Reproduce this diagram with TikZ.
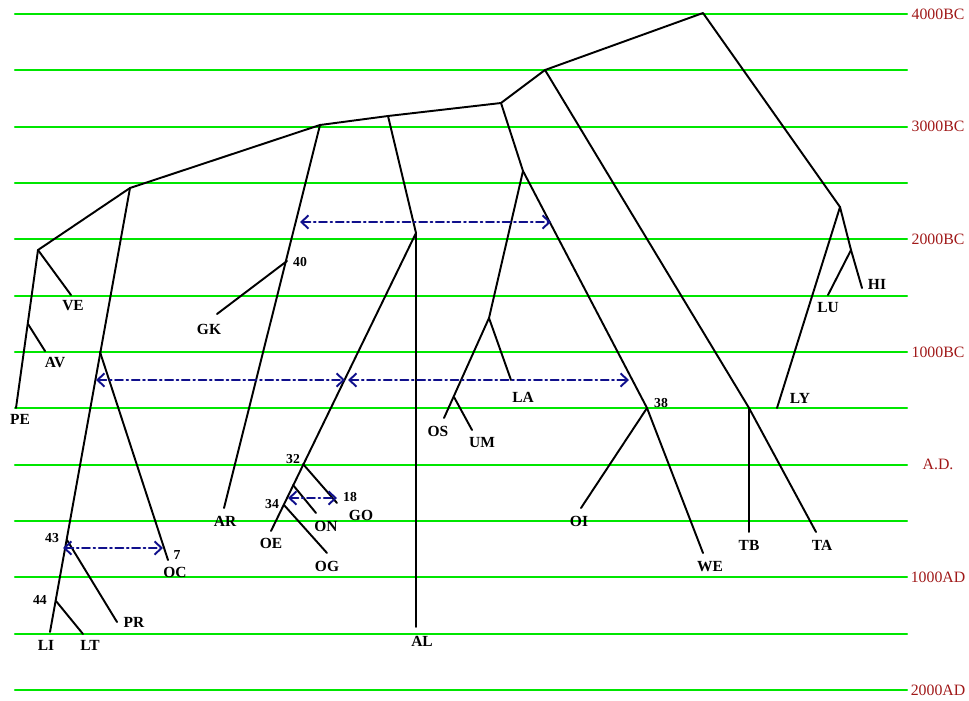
\documentclass[tikz,border=0pt]{standalone}
\usepackage{fontspec}
\setmainfont{Liberation Serif}
\usetikzlibrary{arrows.meta}
\definecolor{gridgreen}{HTML}{00E600}
\definecolor{epochred}{HTML}{A01818}
\definecolor{spreadblue}{HTML}{10108C}

\begin{document}
\begin{tikzpicture}[x=0.02cm, y=-0.02cm, line cap=round, line join=round,
    branch/.style={line width=1.1pt, black},
    lang/.style={font=\bfseries\fontsize{8.8}{9}\selectfont, inner sep=0pt},
    split/.style={font=\bfseries\fontsize{7.8}{8}\selectfont, inner sep=0pt},
    epoch/.style={font=\fontsize{9}{10}\selectfont, epochred, inner sep=0pt},
    spread/.style={line width=1.1pt, spreadblue, dash pattern=on 4.5pt off 2pt on 1pt off 2pt,
      {Straight Barb[length=4pt,width=7.5pt]}-{Straight Barb[length=4pt,width=7.5pt]}}]

  \useasboundingbox (0,0) rectangle (969,700);

  % Lineas de tiempo
  \foreach \i in {0,...,12}
    \draw[gridgreen, line width=1.3pt] (15,{14+56.33*\i}) -- (907,{14+56.33*\i});
  \foreach \i/\t in {0/4000BC, 2/3000BC, 4/2000BC, 6/1000BC, 8/A.D., 10/1000AD, 12/2000AD}
    \node[epoch] (ep\i) at (938,{14+56.33*\i}) {\t};

  % Puntos de ramificacion
  \coordinate (root) at (703,13);
  \coordinate (b1) at (545,70);
  \coordinate (b2) at (501,103);
  \coordinate (b3) at (388,116);
  \coordinate (b4) at (320,125);
  \coordinate (b5) at (130,188);
  \coordinate (b6) at (38,250);
  \coordinate (bAV) at (28,324);
  \coordinate (bOC) at (100,352);
  \coordinate (b43) at (67,540);
  \coordinate (b44) at (56,601);
  \coordinate (b40) at (287,261);
  \coordinate (bAL) at (416,233);
  \coordinate (b32) at (303,464);
  \coordinate (bON) at (293,485);
  \coordinate (b34) at (284,505);
  \coordinate (b7) at (523,171);
  \coordinate (bLA) at (489,318);
  \coordinate (bUM) at (454,397);
  \coordinate (b38) at (647,408);
  \coordinate (bTB) at (749,408);
  \coordinate (b9) at (840,207);
  \coordinate (bLU) at (851,250);

  % Extremos
  \coordinate (eVE) at (71,295);
  \coordinate (eAV) at (45,351);
  \coordinate (ePE) at (16,408);
  \coordinate (eGK) at (217,314);
  \coordinate (eAR) at (224,508);
  \coordinate (eOC) at (168,560);
  \coordinate (ePR) at (117,622);
  \coordinate (eLI) at (50,632);
  \coordinate (eLT) at (83,634);
  \coordinate (eAL) at (416,627);
  \coordinate (eGO) at (337,503);
  \coordinate (eON) at (316,513);
  \coordinate (eOE) at (271,531);
  \coordinate (eOG) at (327,553);
  \coordinate (eLA) at (511,380);
  \coordinate (eOS) at (444,418);
  \coordinate (eUM) at (472,430);
  \coordinate (eOI) at (581,508);
  \coordinate (eWE) at (703,553);
  \coordinate (eTB) at (749,532);
  \coordinate (eTA) at (816,532);
  \coordinate (eLY) at (777,408);
  \coordinate (eLU) at (828,295);
  \coordinate (eHI) at (862,288);

  % Arbol
  \draw[branch] (b5) -- (b4) -- (b3) -- (b2) -- (b1) -- (root) -- (b9);
  \draw[branch] (b1) -- (bTB) -- (eTA);
  \draw[branch] (bTB) -- (eTB);
  \draw[branch] (b9) -- (eLY);
  \draw[branch] (b9) -- (bLU) -- (eHI);
  \draw[branch] (bLU) -- (eLU);
  \draw[branch] (b2) -- (b7) -- (b38) -- (eWE);
  \draw[branch] (b38) -- (eOI);
  \draw[branch] (b7) -- (bLA) -- (eLA);
  \draw[branch] (bLA) -- (eOS);
  \draw[branch] (bUM) -- (eUM);
  \draw[branch] (b3) -- (bAL) -- (eAL);
  \draw[branch] (bAL) -- (eOE);
  \draw[branch] (b32) -- (eGO);
  \draw[branch] (bON) -- (eON);
  \draw[branch] (b34) -- (eOG);
  \draw[branch] (b4) -- (eAR);
  \draw[branch] (b40) -- (eGK);
  \draw[branch] (b5) -- (b6) -- (eVE);
  \draw[branch] (b6) -- (ePE);
  \draw[branch] (bAV) -- (eAV);
  \draw[branch] (b5) -- (eLI);
  \draw[branch] (bOC) -- (eOC);
  \draw[branch] (b43) -- (ePR);
  \draw[branch] (b44) -- (eLT);

  % Etiquetas
  \node[lang] (lVE) at (73,306) {VE};
  \node[lang] (lAV) at (55,363) {AV};
  \node[lang] (lPE) at (20,419) {PE};
  \node[lang] (lGK) at (209,329) {GK};
  \node[lang] (lAR) at (225,521) {AR};
  \node[lang] (lOC) at (175,572) {OC};
  \node[lang] (lPR) at (134,622) {PR};
  \node[lang] (lLI) at (46,645) {LI};
  \node[lang] (lLT) at (90,645) {LT};
  \node[lang] (lAL) at (422,641) {AL};
  \node[lang] (lGO) at (361,515) {GO};
  \node[lang] (lON) at (326,526) {ON};
  \node[lang] (lOE) at (271,543) {OE};
  \node[lang] (lOG) at (327,566) {OG};
  \node[lang] (lLA) at (523,397) {LA};
  \node[lang] (lOS) at (438,431) {OS};
  \node[lang] (lUM) at (482,443) {UM};
  \node[lang] (lOI) at (579,521) {OI};
  \node[lang] (lWE) at (710,567) {WE};
  \node[lang] (lTB) at (749,545) {TB};
  \node[lang] (lTA) at (822,545) {TA};
  \node[lang] (lLY) at (800,398) {LY};
  \node[lang] (lLU) at (828,308) {LU};
  \node[lang] (lHI) at (877,284) {HI};

  \node[split] (n40) at (300,262) {40};
  \node[split] (n7) at (177,555) {7};
  \node[split] (n43) at (52,538) {43};
  \node[split] (n44) at (40,600) {44};
  \node[split] (n32) at (293,459) {32};
  \node[split] (n34) at (272,504) {34};
  \node[split] (n18) at (350,497) {18};
  \node[split] (n38) at (661,403) {38};

  % Contactos
  \coordinate (s1a) at (300,222);
  \coordinate (s1b) at (551,222);
  \coordinate (s2a) at (96,380);
  \coordinate (s2b) at (345,380);
  \coordinate (s3a) at (348,380);
  \coordinate (s3b) at (629,380);
  \coordinate (s4a) at (63,548);
  \coordinate (s4b) at (163,548);
  \coordinate (s5a) at (288,498);
  \coordinate (s5b) at (337,498);
  \draw[spread] (s1a) -- (s1b);
  \draw[spread] (s2a) -- (s2b);
  \draw[spread] (s3a) -- (s3b);
  \draw[spread] (s4a) -- (s4b);
  \draw[spread] (s5a) -- (s5b);
\end{tikzpicture}
\end{document}
